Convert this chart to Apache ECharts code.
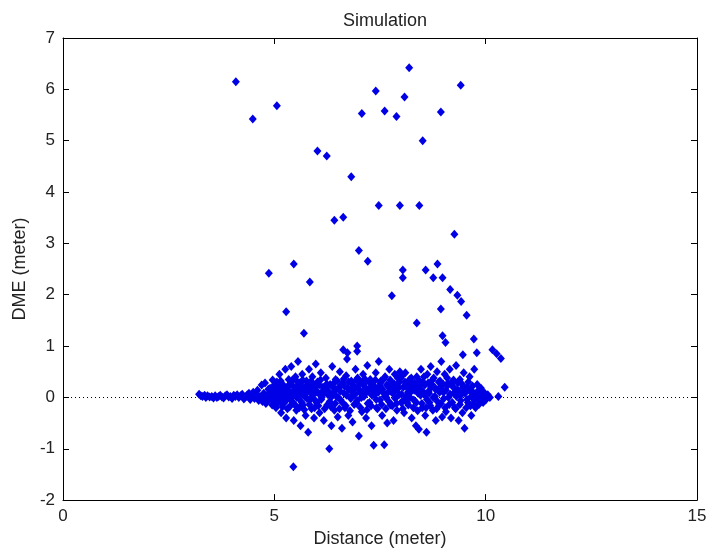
<!DOCTYPE html>
<html>
<head>
<meta charset="utf-8">
<script src="https://cdn.jsdelivr.net/npm/echarts@6/dist/echarts.min.js"></script>
<style>html,body{margin:0;padding:0;background:#fff}#c{width:710px;height:553px}</style>
</head>
<body>
<div id="c"></div>
<script>
// Axis ticks
const xTicks = [0, 5, 10, 15];
const yTicks = [-2, -1, 0, 1, 2, 3, 4, 5, 6, 7];

// Low-distance tail, tightly around zero [distance, DME]
const tail = [[3.22,0.06],[3.26,0.03],[3.30,0.02],[3.35,0.04],[3.38,0.00],[3.42,0.03],[3.47,0.01],[3.52,0.02],[3.56,-0.01],[3.60,0.03],[3.64,0.00],[3.68,0.02],[3.72,0.04],[3.76,0.01],[3.80,-0.01],[3.84,0.03],[3.88,0.05],[3.92,0.01],[3.96,0.02],[4.00,-0.02],[4.04,0.04],[4.08,0.02],[4.12,0.05],[4.16,0.00],[4.20,0.03],[4.24,0.06],[4.28,-0.03],[4.32,0.01],[4.36,0.05],[4.40,0.08],[4.43,-0.04],[4.46,0.02],[4.50,0.10],[4.53,-0.02],[4.56,0.06],[4.60,0.14],[4.63,-0.06],[4.66,0.02],[4.70,0.24],[4.72,-0.08],[4.75,0.08],[4.78,0.28],[4.80,-0.12],[4.83,0.04],[4.86,0.16],[4.88,-0.04],[4.96,0.34],[4.92,0.10],[4.95,-0.15],[4.98,0.22]];

// Main spread band
const band = [[5.02,0.05],[5.04,-0.20],[5.06,0.30],[5.08,0.12],[5.10,-0.05],[5.12,0.45],[5.14,0.18],[5.16,-0.30],[5.18,0.02],[5.20,0.25],[5.22,-0.12],[5.24,0.08],[5.26,0.55],[5.28,-0.40],[5.30,0.15],[5.32,0.00],[5.34,0.35],[5.36,-0.18],[5.38,0.10],[5.40,0.60],[5.42,-0.08],[5.44,0.22],[5.46,-0.45],[5.48,0.05],[5.50,0.40],
[5.52,-0.25],[5.54,0.12],[5.56,0.70],[5.58,-0.02],[5.60,0.28],[5.62,-0.55],[5.64,0.08],[5.66,0.45],[5.68,-0.15],[5.70,0.18],[5.72,0.02],[5.74,-0.35],[5.76,0.32],[5.78,0.10],[5.80,-0.68],[5.82,0.55],[5.84,-0.05],[5.86,0.22],[5.88,-0.22],[5.90,0.40],[5.92,0.05],[5.94,-0.40],[5.96,0.15],[5.98,0.65],
[6.00,-0.10],[6.02,0.30],[6.05,0.08],[6.07,-0.30],[6.10,0.48],[6.12,0.00],[6.15,0.20],[6.17,-0.45],[6.20,0.12],[6.22,0.38],[6.25,-0.15],[6.27,0.05],[6.30,-1.00],[6.32,0.25],[6.35,-0.55],[6.37,0.60],[6.40,0.10],[6.42,-0.25],[6.45,0.35],[6.47,0.02],[6.50,-0.38],
[6.52,0.18],[6.55,0.50],[6.57,-0.05],[6.60,-0.60],[6.62,0.28],[6.65,0.08],[6.67,-0.20],[6.70,0.42],[6.72,0.75],[6.75,-0.35],[6.77,0.15],[6.80,0.00],[6.82,0.32],[6.85,-0.48],[6.87,0.22],[6.90,0.05],[6.92,0.55],[6.95,-0.12],[6.97,0.38],
[7.00,-0.75],[7.02,0.10],[7.05,0.30],[7.07,-0.28],[7.10,0.45],[7.12,0.02],[7.15,0.20],[7.17,-0.40],[7.20,0.62],[7.22,0.12],[7.25,-0.10],[7.27,0.35],[7.30,-0.55],[7.32,0.25],[7.35,-0.93],[7.37,0.05],[7.40,0.48],[7.42,-0.20],[7.45,0.15],[7.47,0.70],[7.50,-0.05],
[7.52,0.32],[7.55,-0.35],[7.57,0.10],[7.60,-0.92],[7.62,0.40],[7.65,0.00],[7.67,-0.50],[7.70,0.22],[7.72,0.55],[7.75,-0.15],[7.77,0.30],[7.80,0.08],[7.82,-0.45],[7.85,0.45],[7.87,0.15],[7.90,-0.25],[7.92,0.38],[7.95,0.05],[7.97,0.50],
[8.00,-0.10],[8.02,0.42],[8.05,0.20],[8.07,-0.30],[8.10,0.48],[8.12,0.02],[8.15,0.25],[8.17,-0.15],[8.20,0.35],[8.22,0.10],[8.25,-0.40],[8.27,0.18],[8.30,-0.05],[8.32,0.28],[8.35,-0.55],[8.37,0.40],[8.40,0.08],[8.42,-0.62],[8.45,0.22],[8.47,0.55],[8.50,-0.20],
[8.52,0.30],[8.55,0.05],[8.57,-0.35],[8.60,-0.68],[8.62,0.45],[8.65,0.12],[8.67,-0.10],[8.70,0.60],[8.72,0.25],[8.75,-0.25],[8.77,0.38],[8.80,0.02],[8.82,-0.45],[8.85,0.50],[8.87,0.15],[8.90,-0.15],[8.92,0.32],[8.95,0.70],[8.97,-0.38],
[9.00,0.10],[9.03,0.45],[9.06,-0.28],[9.09,0.22],[9.12,0.00],[9.15,0.55],[9.18,-0.40],[9.21,0.30],[9.24,0.08],[9.27,-0.20],[9.30,0.62],[9.33,0.15],[9.36,-0.45],[9.39,0.35],[9.42,0.05],[9.45,-0.30],[9.48,0.48],[9.50,-0.60],
[9.55,0.20],[9.58,-0.10],[9.62,0.40],[9.66,-0.35],[9.70,0.10],[9.73,0.55],[9.76,-0.20],[9.80,0.25],[9.84,0.00],[9.88,-0.08],[9.92,0.12],[9.96,0.02],[10.00,-0.05],[10.05,0.05],[10.10,0.00],[10.30,0.02],[10.45,0.20]];

// Dense core near zero
const core = [[5.01,0.15],[5.05,0.00],[5.09,0.22],[5.13,-0.08],[5.17,0.10],[5.21,0.02],[5.25,0.18],[5.29,-0.05],[5.33,0.12],[5.37,0.26],[5.41,0.04],[5.45,-0.12],[5.49,0.16],[5.53,0.00],[5.57,0.24],[5.61,0.08],[5.65,-0.10],[5.69,0.20],[5.73,0.06],[5.77,-0.02],[5.81,0.14],[5.85,0.30],[5.89,0.00],[5.93,0.18],[5.97,-0.06],[6.01,0.10],[6.06,0.24],[6.11,-0.04],[6.16,0.06],[6.21,0.20],[6.26,0.14],[6.31,-0.08],[6.36,0.02],[6.41,0.28],[6.46,0.16],[6.51,0.00],[6.56,0.12],[6.61,-0.10],[6.66,0.22],[6.71,0.04],[6.76,0.30],[6.81,-0.02],[6.86,0.10],[6.91,0.18],[6.96,-0.06],[7.01,0.14],[7.06,0.00],[7.11,0.26],[7.16,0.08],[7.21,-0.12],[7.26,0.18],[7.31,0.04],[7.36,0.22],[7.41,-0.04],[7.46,0.10],[7.51,0.28],[7.56,0.16],[7.61,0.02],[7.66,0.24],[7.71,-0.08],[7.76,0.12],[7.81,0.20],[7.86,-0.02],[7.91,0.16],[7.96,0.30],[8.01,0.06],[8.06,-0.06],[8.11,0.22],[8.16,0.10],[8.21,0.00],[8.26,0.26],[8.31,0.14],[8.36,-0.10],[8.41,0.18],[8.46,0.04],[8.51,0.12],[8.56,0.24],[8.61,-0.04],[8.66,0.08],[8.71,0.20],[8.76,0.00],[8.81,0.16],[8.86,-0.08],[8.91,0.10],[8.96,0.22],[9.01,-0.02],[9.06,0.14],[9.11,0.28],[9.16,0.06],[9.21,-0.10],[9.26,0.18],[9.31,0.02],[9.36,0.12],[9.41,-0.06],[9.46,0.20],[9.51,0.08],[9.56,-0.04],[9.61,0.14],[9.66,0.02],[9.71,-0.12],[9.76,0.06],[9.81,0.10],[9.86,-0.02],[9.91,0.04]];

// Second dense layer around the core
const core2 = [[4.82,-0.02],[4.86,0.06],[4.90,0.18],[4.94,0.02],[4.98,-0.08],[5.03,0.28],[5.07,-0.12],[5.11,0.08],[5.15,0.32],[5.19,-0.18],[5.23,0.20],[5.27,0.06],[5.31,-0.22],[5.35,0.24],[5.39,-0.02],[5.43,0.34],[5.47,0.10],[5.51,-0.16],[5.55,0.30],[5.59,-0.20],[5.63,0.14],[5.67,0.34],[5.71,-0.24],[5.75,0.12],[5.79,0.26],[5.83,-0.14],[5.87,0.08],[5.91,0.28],[5.95,-0.20],[5.99,0.22],[6.04,-0.16],[6.09,0.34],[6.14,0.12],[6.19,-0.22],[6.24,0.26],[6.29,0.08],[6.34,-0.18],[6.39,0.20],[6.44,-0.12],[6.49,0.32],[6.54,-0.22],[6.59,0.24],[6.64,0.36],[6.69,-0.16],[6.74,0.18],[6.79,-0.26],[6.84,0.28],[6.89,-0.14],[6.94,0.34],[6.99,0.22],[7.04,-0.20],[7.09,0.12],[7.14,0.36],[7.19,-0.24],[7.24,0.30],[7.29,-0.16],[7.34,0.14],[7.39,0.34],[7.44,-0.22],[7.49,0.22],[7.54,-0.14],[7.59,0.36],[7.64,-0.22],[7.69,0.10],[7.74,0.34],[7.79,-0.16],[7.84,0.26],[7.89,-0.12],[7.94,0.20],[7.99,0.38],[8.04,-0.22],[8.09,0.30],[8.14,-0.10],[8.19,0.18],[8.24,0.38],[8.29,-0.20],[8.34,0.24],[8.39,-0.26],[8.44,0.32],[8.49,-0.12],[8.54,0.40],[8.59,-0.20],[8.64,0.28],[8.69,-0.16],[8.74,0.34],[8.79,0.20],[8.84,-0.22],[8.89,0.30],[8.94,-0.12],[8.99,0.26],[9.04,-0.20],[9.09,0.38],[9.14,-0.14],[9.19,0.24],[9.24,0.34],[9.29,-0.22],[9.34,0.28],[9.39,-0.14],[9.44,0.26],[9.49,0.12],[9.54,-0.20],[9.59,0.30],[9.64,-0.16],[9.69,0.22],[9.74,-0.06],[9.79,0.10],[9.84,-0.14],[9.89,0.18],[9.94,-0.10],[9.98,0.08]];

// Large errors (outliers)
const outliers = [[4.09,6.15],[4.49,5.42],[5.06,5.68],[8.19,6.42],[9.41,6.08],[7.40,5.97],[8.08,5.85],[7.07,5.53],[7.61,5.58],[7.89,5.47],[8.94,5.56],[8.51,5.00],[6.02,4.80],[6.24,4.70],[6.82,4.30],[7.47,3.74],[7.97,3.74],[8.43,3.74],[6.42,3.45],[6.63,3.51],[9.26,3.18],[7.00,2.86],[7.21,2.65],[5.46,2.60],[4.87,2.42],[5.84,2.25],[8.04,2.48],[8.04,2.33],[8.58,2.48],[8.86,2.60],[8.76,2.33],[8.98,2.33],[9.16,2.10],[9.33,1.99],[9.42,1.87],[7.78,1.98],[8.94,1.72],[9.55,1.60],[5.28,1.67],[5.70,1.25],[8.37,1.45],[8.98,1.20],[9.05,1.07],[9.72,1.14],[6.96,1.00],[6.96,0.90],[6.63,0.93],[6.73,0.87],[10.16,0.93],[10.26,0.85],[9.79,0.87],[9.46,0.83],[10.36,0.76],[5.45,-1.35]];

const chart = echarts.init(document.getElementById('c'));
const font = 'Liberation Sans, Arial, sans-serif';
const blue = '#0000e6';
function mkSeries(d, withLine) {
  const s = {
    type: 'scatter', data: d, symbol: 'diamond', symbolSize: [8, 9],
    itemStyle: { color: blue, opacity: 1 }, silent: true, animation: false, z: 3
  };
  if (withLine) {
    s.markLine = {
      silent: true, symbol: ['none','none'], label: { show: false },
      lineStyle: { type: [1, 3], color: '#000', width: 1 },
      data: [{ yAxis: 0 }], animation: false, z: 1
    };
  }
  return s;
}
const xMin = xTicks[0], xMax = xTicks[xTicks.length-1], xInt = xTicks[1]-xTicks[0];
const yMin = yTicks[0], yMax = yTicks[yTicks.length-1], yInt = yTicks[1]-yTicks[0];
function axLine() { return { show: true, onZero: false, lineStyle: { color: '#000', width: 1 } }; }
function tick() { return { show: true, inside: true, length: 6, lineStyle: { color: '#000', width: 1 } }; }
chart.setOption({
  backgroundColor: '#fff',
  title: { text: 'Simulation', left: 380, top: 7, textAlign: 'center',
    textStyle: { fontFamily: font, fontSize: 18, fontWeight: 'normal', color: '#222' } },
  grid: { left: 63, right: 13, top: 38, bottom: 50 },
  xAxis: [
    { type: 'value', min: xMin, max: xMax, interval: xInt, position: 'bottom',
      name: 'Distance (meter)', nameLocation: 'middle', nameGap: 29,
      nameTextStyle: { fontFamily: font, fontSize: 18, color: '#222' },
      axisLine: axLine(), axisTick: tick(), splitLine: { show: false },
      axisLabel: { fontFamily: font, fontSize: 17, color: '#222', margin: 8 } },
    { type: 'value', min: xMin, max: xMax, interval: xInt, position: 'top',
      axisLine: axLine(), axisTick: tick(), splitLine: { show: false }, axisLabel: { show: false } }
  ],
  yAxis: [
    { type: 'value', min: yMin, max: yMax, interval: yInt, position: 'left',
      name: 'DME (meter)', nameLocation: 'middle', nameGap: 34,
      nameTextStyle: { fontFamily: font, fontSize: 18, color: '#222' },
      axisLine: axLine(), axisTick: tick(), splitLine: { show: false },
      axisLabel: { fontFamily: font, fontSize: 17, color: '#222', margin: 8 } },
    { type: 'value', min: yMin, max: yMax, interval: yInt, position: 'right',
      axisLine: axLine(), axisTick: tick(), splitLine: { show: false }, axisLabel: { show: false } }
  ],
  series: [mkSeries(tail, true), mkSeries(band), mkSeries(core), mkSeries(core2), mkSeries(outliers)]
});
</script>
</body>
</html>
